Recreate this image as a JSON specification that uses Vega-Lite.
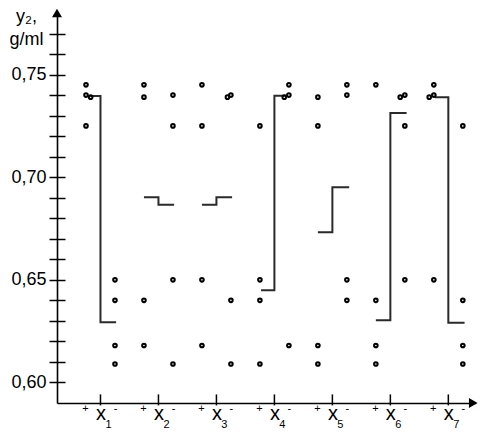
{
  "$schema": "https://vega.github.io/schema/vega-lite/v6.json",
  "width": 418,
  "height": 390,
  "autosize": {"type": "none"},
  "padding": {"left": 57, "top": 13, "right": 5, "bottom": 33},
  "background": "white",
  "config": {"view": {"stroke": null}, "font": "Liberation Sans", "text": {"font": "Liberation Sans"}},
  "datasets": {
    "points": [
      {"f": "x1", "lvl": "+", "pos": 0.75, "y": 0.745},
      {"f": "x1", "lvl": "+", "pos": 0.75, "y": 0.740},
      {"f": "x1", "lvl": "+", "pos": 0.83, "y": 0.739},
      {"f": "x1", "lvl": "+", "pos": 0.75, "y": 0.725},
      {"f": "x1", "lvl": "-", "pos": 1.25, "y": 0.650},
      {"f": "x1", "lvl": "-", "pos": 1.25, "y": 0.640},
      {"f": "x1", "lvl": "-", "pos": 1.25, "y": 0.618},
      {"f": "x1", "lvl": "-", "pos": 1.25, "y": 0.609},
      {"f": "x2", "lvl": "+", "pos": 1.75, "y": 0.745},
      {"f": "x2", "lvl": "+", "pos": 1.75, "y": 0.739},
      {"f": "x2", "lvl": "+", "pos": 1.75, "y": 0.640},
      {"f": "x2", "lvl": "+", "pos": 1.75, "y": 0.618},
      {"f": "x2", "lvl": "-", "pos": 2.25, "y": 0.740},
      {"f": "x2", "lvl": "-", "pos": 2.25, "y": 0.725},
      {"f": "x2", "lvl": "-", "pos": 2.25, "y": 0.650},
      {"f": "x2", "lvl": "-", "pos": 2.25, "y": 0.609},
      {"f": "x3", "lvl": "+", "pos": 2.75, "y": 0.745},
      {"f": "x3", "lvl": "+", "pos": 2.75, "y": 0.725},
      {"f": "x3", "lvl": "+", "pos": 2.75, "y": 0.650},
      {"f": "x3", "lvl": "+", "pos": 2.75, "y": 0.618},
      {"f": "x3", "lvl": "-", "pos": 3.19, "y": 0.739},
      {"f": "x3", "lvl": "-", "pos": 3.25, "y": 0.740},
      {"f": "x3", "lvl": "-", "pos": 3.25, "y": 0.640},
      {"f": "x3", "lvl": "-", "pos": 3.25, "y": 0.609},
      {"f": "x4", "lvl": "+", "pos": 3.75, "y": 0.725},
      {"f": "x4", "lvl": "+", "pos": 3.75, "y": 0.650},
      {"f": "x4", "lvl": "+", "pos": 3.75, "y": 0.640},
      {"f": "x4", "lvl": "+", "pos": 3.75, "y": 0.609},
      {"f": "x4", "lvl": "-", "pos": 4.25, "y": 0.745},
      {"f": "x4", "lvl": "-", "pos": 4.25, "y": 0.740},
      {"f": "x4", "lvl": "-", "pos": 4.17, "y": 0.739},
      {"f": "x4", "lvl": "-", "pos": 4.25, "y": 0.618},
      {"f": "x5", "lvl": "+", "pos": 4.75, "y": 0.739},
      {"f": "x5", "lvl": "+", "pos": 4.75, "y": 0.725},
      {"f": "x5", "lvl": "+", "pos": 4.75, "y": 0.618},
      {"f": "x5", "lvl": "+", "pos": 4.75, "y": 0.609},
      {"f": "x5", "lvl": "-", "pos": 5.25, "y": 0.745},
      {"f": "x5", "lvl": "-", "pos": 5.25, "y": 0.740},
      {"f": "x5", "lvl": "-", "pos": 5.25, "y": 0.650},
      {"f": "x5", "lvl": "-", "pos": 5.25, "y": 0.640},
      {"f": "x6", "lvl": "+", "pos": 5.75, "y": 0.745},
      {"f": "x6", "lvl": "+", "pos": 5.75, "y": 0.640},
      {"f": "x6", "lvl": "+", "pos": 5.75, "y": 0.618},
      {"f": "x6", "lvl": "+", "pos": 5.75, "y": 0.609},
      {"f": "x6", "lvl": "-", "pos": 6.17, "y": 0.739},
      {"f": "x6", "lvl": "-", "pos": 6.25, "y": 0.740},
      {"f": "x6", "lvl": "-", "pos": 6.25, "y": 0.725},
      {"f": "x6", "lvl": "-", "pos": 6.25, "y": 0.650},
      {"f": "x7", "lvl": "+", "pos": 6.75, "y": 0.745},
      {"f": "x7", "lvl": "+", "pos": 6.75, "y": 0.740},
      {"f": "x7", "lvl": "+", "pos": 6.67, "y": 0.739},
      {"f": "x7", "lvl": "+", "pos": 6.75, "y": 0.650},
      {"f": "x7", "lvl": "-", "pos": 7.25, "y": 0.725},
      {"f": "x7", "lvl": "-", "pos": 7.25, "y": 0.640},
      {"f": "x7", "lvl": "-", "pos": 7.25, "y": 0.618},
      {"f": "x7", "lvl": "-", "pos": 7.25, "y": 0.609}
    ],
    "steps": [
      {"f": "x1", "pos": 0.82, "y": 0.7396},
      {"f": "x1", "pos": 1.0, "y": 0.6294},
      {"f": "x1", "pos": 1.27, "y": 0.6294},
      {"f": "x2", "pos": 1.75, "y": 0.6902},
      {"f": "x2", "pos": 2.0, "y": 0.6866},
      {"f": "x2", "pos": 2.27, "y": 0.6866},
      {"f": "x3", "pos": 2.75, "y": 0.6866},
      {"f": "x3", "pos": 3.0, "y": 0.6902},
      {"f": "x3", "pos": 3.27, "y": 0.6902},
      {"f": "x4", "pos": 3.77, "y": 0.6449},
      {"f": "x4", "pos": 4.0, "y": 0.7397},
      {"f": "x4", "pos": 4.21, "y": 0.7397},
      {"f": "x5", "pos": 4.75, "y": 0.6732},
      {"f": "x5", "pos": 5.0, "y": 0.6951},
      {"f": "x5", "pos": 5.29, "y": 0.6951},
      {"f": "x6", "pos": 5.75, "y": 0.6303},
      {"f": "x6", "pos": 6.0, "y": 0.7313},
      {"f": "x6", "pos": 6.28, "y": 0.7313},
      {"f": "x7", "pos": 6.77, "y": 0.739},
      {"f": "x7", "pos": 7.0, "y": 0.6291},
      {"f": "x7", "pos": 7.28, "y": 0.6291}
    ],
    "factors": [
      {"pos": 1, "sub": "1"},
      {"pos": 2, "sub": "2"},
      {"pos": 3, "sub": "3"},
      {"pos": 4, "sub": "4"},
      {"pos": 5, "sub": "5"},
      {"pos": 6, "sub": "6"},
      {"pos": 7, "sub": "7"}
    ],
    "yArrow": [{"pos": 0.25, "y": 0.78}],
    "xArrow": [{"pos": 7.43, "y": 0.59}]
  },
  "encoding": {
    "x": {
      "field": "pos", "type": "quantitative",
      "scale": {"domain": [0.25, 7.46], "nice": false, "zero": false},
      "axis": {
        "title": null,
        "values": [1, 2, 3, 4, 5, 6, 7],
        "labelExpr": "'x'",
        "labelFont": "Liberation Sans",
        "labelFontSize": 20,
        "labelColor": "black",
        "labelPadding": 0,
        "labelFlush": false,
        "labelOverlap": false,
        "domainColor": "black",
        "domainWidth": 1.6,
        "ticks": false,
        "grid": false
      }
    }
  },
  "layer": [
    {
      "data": {"name": "steps"},
      "mark": {"type": "line", "interpolate": "step-after", "stroke": "#2a2a2a", "strokeWidth": 2},
      "encoding": {
        "y": {
          "field": "y", "type": "quantitative",
          "scale": {"domain": [0.59, 0.78], "nice": false, "zero": false},
          "axis": {
            "title": ["y₂,", "g/ml"], "titleAngle": 0, "titleFont": "Liberation Sans", "titleFontSize": 18, "titleFontWeight": "normal", "titleColor": "black", "titleAlign": "center", "titleBaseline": "alphabetic", "titleLineHeight": 23, "titleX": -31, "titleY": 8,
            "values": [0.60, 0.61, 0.62, 0.63, 0.64, 0.65, 0.66, 0.67, 0.68, 0.69, 0.70, 0.71, 0.72, 0.73, 0.74, 0.75, 0.76, 0.77],
            "labelExpr": "round(datum.value * 100) % 5 == 0 ? replace(format(datum.value, '.2f'), '.', ',') : ''",
            "labelFont": "Liberation Sans", "labelFontSize": 18, "labelColor": "black", "labelPadding": 3, "labelFlush": false, "labelOverlap": false,
            "domainColor": "black", "domainWidth": 1.6, "tickColor": "black", "tickWidth": 1.5, "tickSize": 8,
            "grid": true, "gridColor": "black", "gridOpacity": 1, "gridWidth": 1.5, "gridDash": [8, 2000]
          }
        },
        "detail": {"field": "f", "type": "nominal"}
      }
    },
    {
      "data": {"name": "points"},
      "mark": {"type": "point", "shape": "circle", "filled": false, "stroke": "black", "strokeWidth": 2, "size": 13, "opacity": 1},
      "encoding": {
        "y": {
          "field": "y", "type": "quantitative",
          "scale": {"domain": [0.59, 0.78], "nice": false, "zero": false},
          "axis": {
            "title": ["y₂,", "g/ml"], "titleAngle": 0, "titleFont": "Liberation Sans", "titleFontSize": 18, "titleFontWeight": "normal", "titleColor": "black", "titleAlign": "center", "titleBaseline": "alphabetic", "titleLineHeight": 23, "titleX": -31, "titleY": 8,
            "values": [0.60, 0.61, 0.62, 0.63, 0.64, 0.65, 0.66, 0.67, 0.68, 0.69, 0.70, 0.71, 0.72, 0.73, 0.74, 0.75, 0.76, 0.77],
            "labelExpr": "round(datum.value * 100) % 5 == 0 ? replace(format(datum.value, '.2f'), '.', ',') : ''",
            "labelFont": "Liberation Sans", "labelFontSize": 18, "labelColor": "black", "labelPadding": 3, "labelFlush": false, "labelOverlap": false,
            "domainColor": "black", "domainWidth": 1.6, "tickColor": "black", "tickWidth": 1.5, "tickSize": 8,
            "grid": true, "gridColor": "black", "gridOpacity": 1, "gridWidth": 1.5, "gridDash": [8, 2000]
          }
        }
      }
    },
    {
      "data": {"name": "yArrow"},
      "mark": {"type": "point", "shape": "triangle-up", "filled": true, "color": "black", "size": 100, "opacity": 1},
      "encoding": {
        "y": {
          "field": "y", "type": "quantitative",
          "scale": {"domain": [0.59, 0.78], "nice": false, "zero": false},
          "axis": {
            "title": ["y₂,", "g/ml"], "titleAngle": 0, "titleFont": "Liberation Sans", "titleFontSize": 18, "titleFontWeight": "normal", "titleColor": "black", "titleAlign": "center", "titleBaseline": "alphabetic", "titleLineHeight": 23, "titleX": -31, "titleY": 8,
            "values": [0.60, 0.61, 0.62, 0.63, 0.64, 0.65, 0.66, 0.67, 0.68, 0.69, 0.70, 0.71, 0.72, 0.73, 0.74, 0.75, 0.76, 0.77],
            "labelExpr": "round(datum.value * 100) % 5 == 0 ? replace(format(datum.value, '.2f'), '.', ',') : ''",
            "labelFont": "Liberation Sans", "labelFontSize": 18, "labelColor": "black", "labelPadding": 3, "labelFlush": false, "labelOverlap": false,
            "domainColor": "black", "domainWidth": 1.6, "tickColor": "black", "tickWidth": 1.5, "tickSize": 8,
            "grid": true, "gridColor": "black", "gridOpacity": 1, "gridWidth": 1.5, "gridDash": [8, 2000]
          }
        }
      }
    },
    {
      "data": {"name": "xArrow"},
      "mark": {"type": "point", "shape": "triangle-right", "filled": true, "color": "black", "size": 100, "opacity": 1},
      "encoding": {
        "y": {
          "field": "y", "type": "quantitative",
          "scale": {"domain": [0.59, 0.78], "nice": false, "zero": false},
          "axis": {
            "title": ["y₂,", "g/ml"], "titleAngle": 0, "titleFont": "Liberation Sans", "titleFontSize": 18, "titleFontWeight": "normal", "titleColor": "black", "titleAlign": "center", "titleBaseline": "alphabetic", "titleLineHeight": 23, "titleX": -31, "titleY": 8,
            "values": [0.60, 0.61, 0.62, 0.63, 0.64, 0.65, 0.66, 0.67, 0.68, 0.69, 0.70, 0.71, 0.72, 0.73, 0.74, 0.75, 0.76, 0.77],
            "labelExpr": "round(datum.value * 100) % 5 == 0 ? replace(format(datum.value, '.2f'), '.', ',') : ''",
            "labelFont": "Liberation Sans", "labelFontSize": 18, "labelColor": "black", "labelPadding": 3, "labelFlush": false, "labelOverlap": false,
            "domainColor": "black", "domainWidth": 1.6, "tickColor": "black", "tickWidth": 1.5, "tickSize": 8,
            "grid": true, "gridColor": "black", "gridOpacity": 1, "gridWidth": 1.5, "gridDash": [8, 2000]
          }
        }
      }
    },
    {
      "data": {"name": "factors"},
      "mark": {"type": "tick", "orient": "vertical", "size": 11, "thickness": 1.5, "color": "black", "opacity": 1},
      "encoding": {
        "y": {
          "datum": 0.5915, "type": "quantitative",
          "scale": {"domain": [0.59, 0.78], "nice": false, "zero": false},
          "axis": {
            "title": ["y₂,", "g/ml"], "titleAngle": 0, "titleFont": "Liberation Sans", "titleFontSize": 18, "titleFontWeight": "normal", "titleColor": "black", "titleAlign": "center", "titleBaseline": "alphabetic", "titleLineHeight": 23, "titleX": -31, "titleY": 8,
            "values": [0.60, 0.61, 0.62, 0.63, 0.64, 0.65, 0.66, 0.67, 0.68, 0.69, 0.70, 0.71, 0.72, 0.73, 0.74, 0.75, 0.76, 0.77],
            "labelExpr": "round(datum.value * 100) % 5 == 0 ? replace(format(datum.value, '.2f'), '.', ',') : ''",
            "labelFont": "Liberation Sans", "labelFontSize": 18, "labelColor": "black", "labelPadding": 3, "labelFlush": false, "labelOverlap": false,
            "domainColor": "black", "domainWidth": 1.6, "tickColor": "black", "tickWidth": 1.5, "tickSize": 8,
            "grid": true, "gridColor": "black", "gridOpacity": 1, "gridWidth": 1.5, "gridDash": [8, 2000]
          }
        }
      }
    },
    {
      "data": {"name": "factors"},
      "mark": {"type": "text", "fontSize": 11, "font": "Liberation Sans", "color": "black", "align": "center", "baseline": "alphabetic", "dx": 8, "dy": 25},
      "encoding": {
        "y": {
          "datum": 0.59, "type": "quantitative",
          "scale": {"domain": [0.59, 0.78], "nice": false, "zero": false},
          "axis": {
            "title": ["y₂,", "g/ml"], "titleAngle": 0, "titleFont": "Liberation Sans", "titleFontSize": 18, "titleFontWeight": "normal", "titleColor": "black", "titleAlign": "center", "titleBaseline": "alphabetic", "titleLineHeight": 23, "titleX": -31, "titleY": 8,
            "values": [0.60, 0.61, 0.62, 0.63, 0.64, 0.65, 0.66, 0.67, 0.68, 0.69, 0.70, 0.71, 0.72, 0.73, 0.74, 0.75, 0.76, 0.77],
            "labelExpr": "round(datum.value * 100) % 5 == 0 ? replace(format(datum.value, '.2f'), '.', ',') : ''",
            "labelFont": "Liberation Sans", "labelFontSize": 18, "labelColor": "black", "labelPadding": 3, "labelFlush": false, "labelOverlap": false,
            "domainColor": "black", "domainWidth": 1.6, "tickColor": "black", "tickWidth": 1.5, "tickSize": 8,
            "grid": true, "gridColor": "black", "gridOpacity": 1, "gridWidth": 1.5, "gridDash": [8, 2000]
          }
        },
        "text": {"field": "sub"}
      }
    },
    {
      "data": {"name": "factors"},
      "mark": {"type": "text", "text": "+", "fontSize": 11, "font": "Liberation Sans", "color": "black", "align": "center", "baseline": "middle", "dx": -15, "dy": 6},
      "encoding": {
        "y": {
          "datum": 0.59, "type": "quantitative",
          "scale": {"domain": [0.59, 0.78], "nice": false, "zero": false},
          "axis": {
            "title": ["y₂,", "g/ml"], "titleAngle": 0, "titleFont": "Liberation Sans", "titleFontSize": 18, "titleFontWeight": "normal", "titleColor": "black", "titleAlign": "center", "titleBaseline": "alphabetic", "titleLineHeight": 23, "titleX": -31, "titleY": 8,
            "values": [0.60, 0.61, 0.62, 0.63, 0.64, 0.65, 0.66, 0.67, 0.68, 0.69, 0.70, 0.71, 0.72, 0.73, 0.74, 0.75, 0.76, 0.77],
            "labelExpr": "round(datum.value * 100) % 5 == 0 ? replace(format(datum.value, '.2f'), '.', ',') : ''",
            "labelFont": "Liberation Sans", "labelFontSize": 18, "labelColor": "black", "labelPadding": 3, "labelFlush": false, "labelOverlap": false,
            "domainColor": "black", "domainWidth": 1.6, "tickColor": "black", "tickWidth": 1.5, "tickSize": 8,
            "grid": true, "gridColor": "black", "gridOpacity": 1, "gridWidth": 1.5, "gridDash": [8, 2000]
          }
        }
      }
    },
    {
      "data": {"name": "factors"},
      "mark": {"type": "text", "text": "-", "fontSize": 11, "font": "Liberation Sans", "color": "black", "align": "center", "baseline": "middle", "dx": 15, "dy": 6},
      "encoding": {
        "y": {
          "datum": 0.59, "type": "quantitative",
          "scale": {"domain": [0.59, 0.78], "nice": false, "zero": false},
          "axis": {
            "title": ["y₂,", "g/ml"], "titleAngle": 0, "titleFont": "Liberation Sans", "titleFontSize": 18, "titleFontWeight": "normal", "titleColor": "black", "titleAlign": "center", "titleBaseline": "alphabetic", "titleLineHeight": 23, "titleX": -31, "titleY": 8,
            "values": [0.60, 0.61, 0.62, 0.63, 0.64, 0.65, 0.66, 0.67, 0.68, 0.69, 0.70, 0.71, 0.72, 0.73, 0.74, 0.75, 0.76, 0.77],
            "labelExpr": "round(datum.value * 100) % 5 == 0 ? replace(format(datum.value, '.2f'), '.', ',') : ''",
            "labelFont": "Liberation Sans", "labelFontSize": 18, "labelColor": "black", "labelPadding": 3, "labelFlush": false, "labelOverlap": false,
            "domainColor": "black", "domainWidth": 1.6, "tickColor": "black", "tickWidth": 1.5, "tickSize": 8,
            "grid": true, "gridColor": "black", "gridOpacity": 1, "gridWidth": 1.5, "gridDash": [8, 2000]
          }
        }
      }
    }
  ]
}
